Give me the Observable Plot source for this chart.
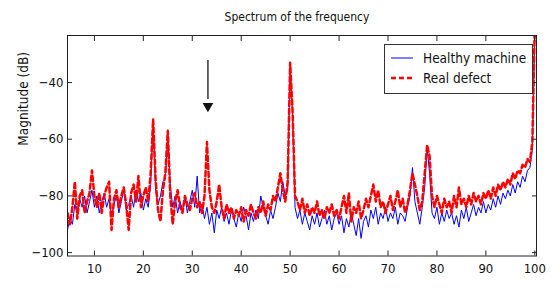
<!DOCTYPE html>
<html>
<head>
<meta charset="utf-8">
<script src="https://cdn.jsdelivr.net/npm/d3@7"></script>
<script src="https://cdn.jsdelivr.net/npm/@observablehq/plot@0.6"></script>
<style>
  html, body { margin: 0; padding: 0; background: #fff; }
  #wrap { position: relative; width: 553px; height: 287px; overflow: hidden; }
  #legend { position: absolute; left: 384px; top: 44px; }
  .f { font-family: "Liberation Sans Narrow", "Arial Narrow", "DejaVu Sans Condensed", "Liberation Sans", sans-serif; }
</style>
</head>
<body>
<div id="wrap"></div>
<script>
// Sampling grid (frequency), 4.5 .. 100 in steps of 0.5
const freq = d3.range(4.5, 100.001, 0.5);

// Real defect (red dashed), one row per 5 units starting at 4.5
const defect = [
  -86,-90,-84,-75,-88,-80,-78,-86,-82,-79,
  -71,-80,-84,-79,-86,-80,-77,-75,-92,-81,
  -78,-84,-80,-77,-83,-92,-79,-76,-82,-73,
  -84,-80,-77,-82,-72,-53,-74,-85,-89,-78,
  -72,-57,-80,-90,-82,-78,-84,-86,-80,-83,
  -85,-81,-79,-84,-82,-86,-80,-61,-78,-84,
  -86,-82,-76,-84,-88,-83,-86,-84,-88,-85,
  -87,-84,-89,-85,-87,-83,-86,-88,-84,-86,
  -82,-87,-83,-85,-80,-82,-77,-72,-78,-82,
  -75,-33,-50,-80,-82,-85,-81,-86,-83,-87,
  -84,-86,-82,-87,-85,-88,-84,-86,-83,-87,
  -85,-88,-84,-80,-86,-79,-89,-84,-86,-82,
  -88,-85,-81,-84,-80,-76,-82,-78,-84,-82,
  -86,-83,-80,-85,-82,-78,-84,-81,-86,-83,
  -78,-72,-76,-80,-85,-82,-72,-62,-66,-80,
  -84,-80,-83,-86,-81,-84,-82,-86,-80,-84,
  -77,-83,-81,-84,-80,-83,-79,-82,-80,-83,
  -79,-81,-78,-81,-77,-80,-76,-78,-75,-77,
  -74,-76,-72,-74,-71,-72,-69,-70,-67,-68,
  -61,-20
];

// Healthy machine (blue solid)
const healthy = [
  -92,-88,-90,-83,-86,-81,-84,-80,-86,-82,
  -78,-84,-80,-86,-82,-79,-84,-81,-87,-83,
  -80,-86,-82,-78,-85,-83,-80,-84,-78,-82,
  -79,-85,-81,-84,-76,-54,-78,-83,-80,-75,
  -74,-58,-76,-84,-80,-86,-82,-85,-80,-86,
  -82,-78,-84,-73,-86,-83,-88,-84,-90,-86,
  -93,-85,-88,-84,-89,-86,-90,-85,-88,-91,
  -86,-89,-84,-87,-92,-86,-89,-85,-88,-80,
  -84,-87,-90,-85,-88,-84,-79,-82,-75,-80,
  -78,-33,-52,-84,-88,-85,-90,-86,-89,-92,
  -87,-90,-86,-91,-88,-85,-90,-87,-92,-88,
  -86,-90,-87,-93,-88,-91,-86,-90,-94,-88,
  -95,-89,-87,-91,-85,-88,-84,-90,-86,-88,
  -84,-89,-86,-88,-84,-90,-86,-87,-89,-84,
  -80,-70,-82,-86,-90,-84,-77,-63,-72,-86,
  -88,-84,-90,-86,-89,-85,-88,-86,-90,-87,
  -91,-85,-88,-84,-89,-86,-83,-87,-84,-86,
  -82,-86,-83,-85,-81,-84,-80,-83,-79,-81,
  -78,-80,-76,-79,-75,-77,-73,-75,-71,-70,
  -64,-22
];

const xTicks = [10, 20, 30, 40, 50, 60, 70, 80, 90, 100];
const yTicks = [-100, -80, -60, -40];
const seriesNames = ["Healthy machine", "Real defect"];
const titleText = "Spectrum of the frequency";
const yLabel = "Magnitude (dB)";
const arrowAt = [{x: 33.2, from: -32.2, to: -46, head: -48.3}];

const rows = freq.map((f, i) => ({f, healthy: healthy[i], defect: defect[i]}));

const FONT = '"Liberation Sans Narrow", "Arial Narrow", "DejaVu Sans Condensed", "Liberation Sans", sans-serif';

const chart = Plot.plot({
  width: 553,
  height: 287,
  marginLeft: 67,
  marginRight: 17,
  marginTop: 35,
  marginBottom: 31.5,
  x: {domain: [4.5, 100.35]},
  y: {domain: [-101.2, -23.4]},
  style: {fontFamily: FONT, fontSize: "13px", background: "#fff", color: "#111"},
  marks: [
    Plot.lineY(rows, {x: "f", y: "healthy", stroke: "#0000ff", strokeWidth: 1, clip: true}),
    Plot.lineY(rows, {x: "f", y: "defect", stroke: "#ff0000", strokeWidth: 2.5, strokeDasharray: "5,3", clip: true}),
    Plot.ruleX(arrowAt, {x: "x", y1: "from", y2: "to", stroke: "#333", strokeWidth: 1.5}),
    Plot.dot(arrowAt, {x: "x", y: "head", symbol: "triangle", r: 4, rotate: 180, fill: "#111", stroke: "none"}),
    Plot.frame({stroke: "#222"}),
    Plot.axisX({anchor: "bottom", ticks: xTicks, tickSize: -5, tickPadding: 13, label: null, stroke: "#222", fontSize: 13}),
    Plot.axisX({anchor: "top", ticks: xTicks, tickSize: -5, tickFormat: () => "", label: null, stroke: "#222"}),
    Plot.axisY({anchor: "left", ticks: yTicks, tickSize: -5, tickPadding: 9, label: null, stroke: "#222", fontSize: 13}),
    Plot.axisY({anchor: "right", ticks: yTicks, tickSize: -5, tickFormat: () => "", label: null, stroke: "#222"}),
    Plot.text([yLabel], {frameAnchor: "left", dx: -44, rotate: -90, fontSize: 13.5, fill: "#111"}),
    Plot.text([titleText], {frameAnchor: "top", dy: -23, dx: -5, fontSize: 12, fill: "#111"})
  ]
});

const wrap = document.getElementById("wrap");
wrap.appendChild(chart);

// Legend overlay inside the plot area
const lg = d3.create("svg").attr("id", "legend").attr("width", 150).attr("height", 51)
  .attr("class", "f");
lg.append("rect").attr("x", 0.5).attr("y", 0.5).attr("width", 148).attr("height", 49)
  .attr("fill", "#fff").attr("stroke", "#333");
const styles = [
  {stroke: "#0000ff", width: 1, dash: null},
  {stroke: "#ff0000", width: 2.5, dash: "5,3"}
];
seriesNames.forEach((name, i) => {
  const cy = 14 + i * 20;
  lg.append("line").attr("x1", 7).attr("x2", 29).attr("y1", cy).attr("y2", cy)
    .attr("stroke", styles[i].stroke).attr("stroke-width", styles[i].width)
    .attr("stroke-dasharray", styles[i].dash);
  lg.append("text").attr("x", 39).attr("y", cy).attr("dy", "0.35em")
    .attr("font-size", 13.5).attr("fill", "#111").text(name);
});
wrap.appendChild(lg.node());
</script>
</body>
</html>
